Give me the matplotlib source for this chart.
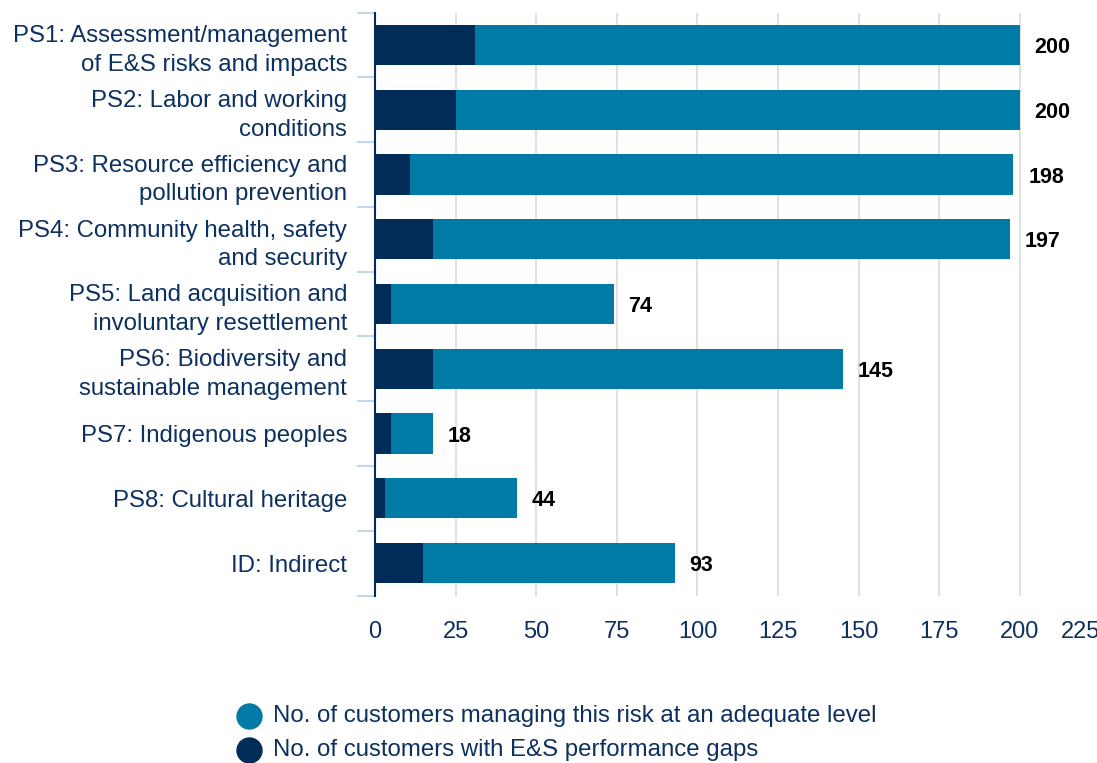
import matplotlib.pyplot as plt
from matplotlib.lines import Line2D
import numpy as np

plt.rcParams['font.family'] = ['Liberation Sans', 'DejaVu Sans']

categories = [
    "PS1: Assessment/management\nof E&S risks and impacts",
    "PS2: Labor and working\nconditions",
    "PS3: Resource efficiency and\npollution prevention",
    "PS4: Community health, safety\nand security",
    "PS5: Land acquisition and\ninvoluntary resettlement",
    "PS6: Biodiversity and\nsustainable management",
    "PS7: Indigenous peoples",
    "PS8: Cultural heritage",
    "ID: Indirect",
]
totals = [200, 200, 198, 197, 74, 145, 18, 44, 93]
gaps = [31, 25, 11, 18, 5, 18, 5, 3, 15]
adequate = [t - g for t, g in zip(totals, gaps)]
x_ticks = [0, 25, 50, 75, 100, 125, 150, 175, 200, 225]

NAVY = "#002c57"
TEAL = "#007ba6"
TEXT = "#0c3060"

fig = plt.figure(figsize=(10.97, 7.63), dpi=100)
ax = fig.add_axes([375 / 1097, 1 - 595.5 / 763, (1100.5 - 375) / 1097, (595.5 - 12.5) / 763])

y = np.arange(len(categories))
ax.barh(y, gaps, height=0.62, color=NAVY, zorder=3)
ax.barh(y, adequate, left=gaps, height=0.62, color=TEAL, zorder=3)

for yi, t in zip(y, totals):
    ax.text(t + 4.6, yi + 0.04, str(t), va='center', ha='left', fontsize=15.5,
            fontweight='bold', color='black')

ax.set_xlim(0, 225)
ax.set_ylim(len(categories) - 0.5, -0.5)
ax.set_xticks(x_ticks)
ax.tick_params(axis='x', length=0, labelsize=17, colors=TEXT, pad=18)
ax.grid(axis='x', color='#e0e0e0', linewidth=1.5, zorder=0)
# last label sits a bit left of its tick, as in the original
last = ax.get_xticklabels()[-1]
last.set_horizontalalignment('right')
last.set_x(225)

ax.set_yticks(y)
ax.set_yticklabels(categories, fontsize=17.3, color=TEXT, linespacing=1.38)
ax.set_yticks(np.arange(-0.5, len(categories)), minor=True)
ax.tick_params(axis='y', which='major', length=0, pad=20)
ax.tick_params(axis='y', which='minor', length=13, width=1.5, color='#c8d4ea')

for s in ['top', 'right', 'bottom']:
    ax.spines[s].set_visible(False)
ax.spines['left'].set_color(NAVY)
ax.spines['left'].set_linewidth(1.5)
ax.spines['left'].set_zorder(4)

legend_items = [("No. of customers managing this risk at an adequate level", TEAL),
                ("No. of customers with E&S performance gaps", NAVY)]
for i, (lab, col) in enumerate(legend_items):
    yy = 1 - (716 + 34 * i) / 763
    fig.add_artist(Line2D([249 / 1097], [yy], marker='o', markersize=18, color=col,
                          linestyle='none', transform=fig.transFigure))
    fig.text(273 / 1097, yy, lab, color=TEXT, fontsize=17.3, ha='left', va='center')

fig.savefig("out.png", dpi=100)
